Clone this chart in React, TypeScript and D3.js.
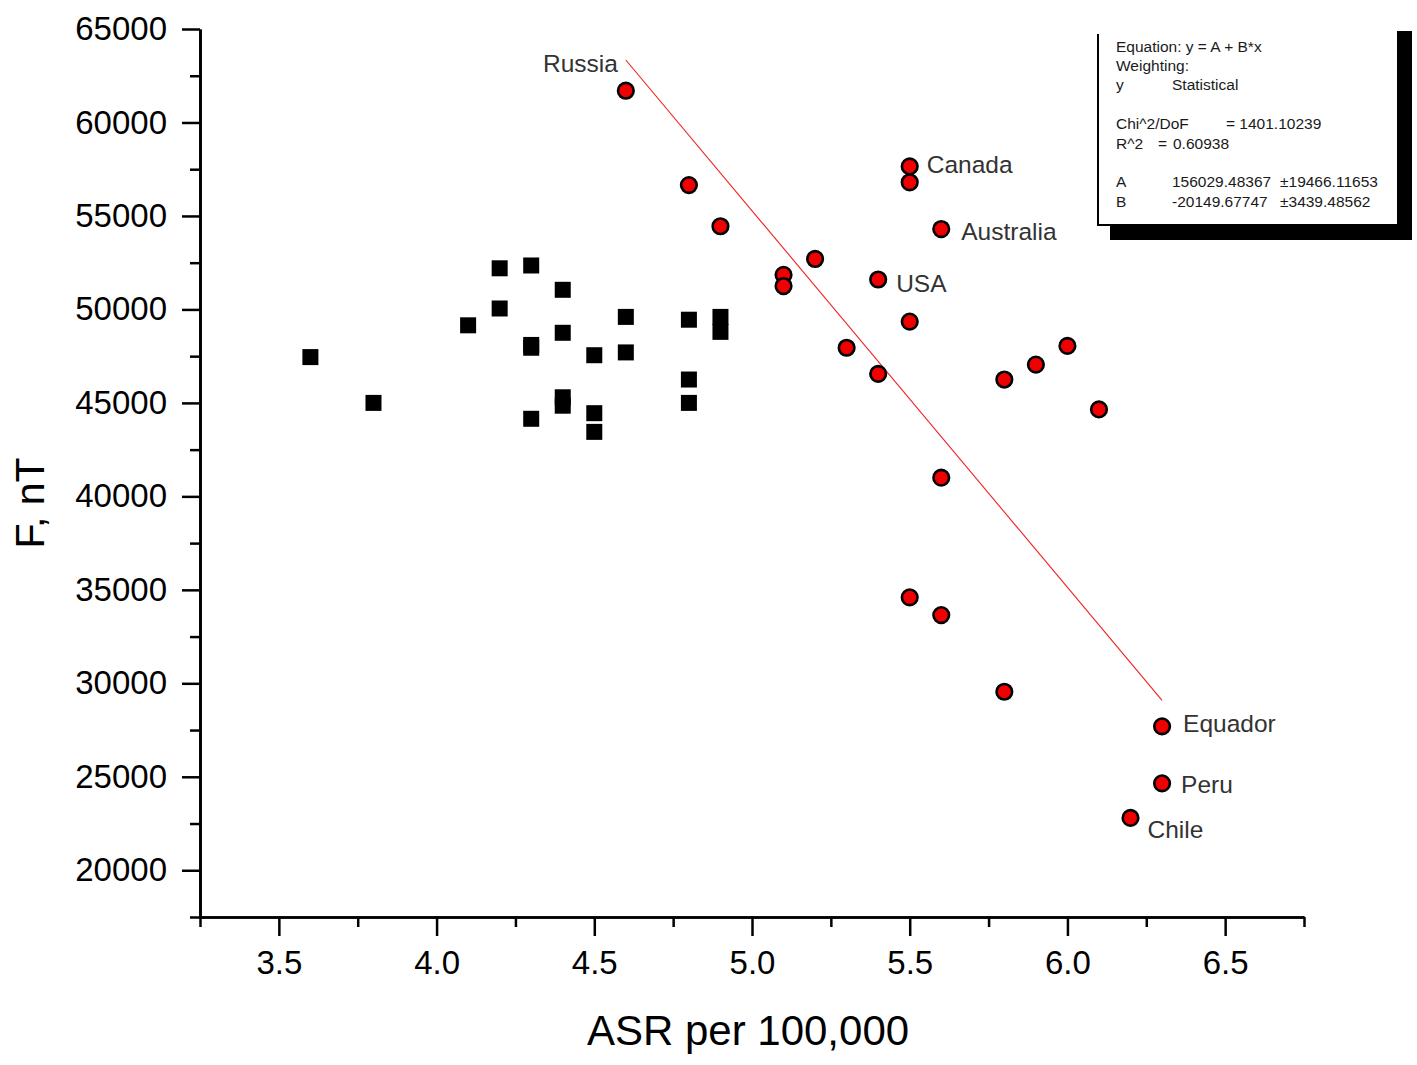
import { useEffect, useRef } from "react";
import * as d3 from "d3";

// black squares
const squareASR = [3.6, 3.8, 4.1, 4.2, 4.2, 4.3, 4.3, 4.3, 4.3, 4.4, 4.4, 4.4, 4.4, 4.5, 4.5, 4.5, 4.6, 4.6, 4.8, 4.8, 4.8, 4.9, 4.9];
const squareF = [47450, 45000, 49150, 52200, 50050, 52350, 48100, 47950, 44150, 51050, 48750, 45300, 44850, 47550, 44450, 43450, 49600, 47700, 49450, 46250, 45000, 49600, 48800];

// red circles
const circleASR = [4.6, 4.8, 4.9, 5.1, 5.1, 5.2, 5.3, 5.4, 5.4, 5.5, 5.5, 5.5, 5.5, 5.6, 5.6, 5.6, 5.8, 5.8, 5.9, 6.0, 6.1, 6.2, 6.3, 6.3];
const circleF = [61700, 56650, 54450, 51850, 51250, 52700, 47950, 51600, 46550, 57650, 56800, 49350, 34600, 54300, 41000, 33650, 46250, 29550, 47050, 48050, 44650, 22800, 27700, 24650];

// country labels (anchored at their point)
const countryNames = ["Russia", "Canada", "Australia", "USA", "Equador", "Peru", "Chile"];
const countryASR = [4.6, 5.5, 5.6, 5.4, 6.3, 6.3, 6.2];
const countryF = [61700, 57650, 54300, 51600, 27700, 24650, 22800];

const xMajorTicks = [3.5, 4.0, 4.5, 5.0, 5.5, 6.0, 6.5];
const xMinorTicks = [3.25, 3.75, 4.25, 4.75, 5.25, 5.75, 6.25, 6.75];
const yMajorTicks = [20000, 25000, 30000, 35000, 40000, 45000, 50000, 55000, 60000, 65000];
const yMinorTicks = [17500, 22500, 27500, 32500, 37500, 42500, 47500, 52500, 57500, 62500];

// linear fit
const fitA = 156029.48367;
const fitB = -20149.67747;
const fitRange = [4.6, 6.3];

const reportRows = [
  ["Equation: y = A + B*x"],
  ["Weighting:"],
  ["y", "Statistical"],
  [],
  ["Chi^2/DoF", "= 1401.10239"],
  ["R^2", "=", "0.60938"],
  [],
  ["A", "156029.48367", "±19466.11653"],
  ["B", "-20149.67747", "±3439.48562"],
];

const FONT = "'Liberation Sans', Arial, Helvetica, sans-serif";

export default function App() {
  const svgRef = useRef<SVGSVGElement>(null);

  useEffect(() => {
    if (!svgRef.current) return;
    const svg = d3.select(svgRef.current);
    svg.selectAll("*").remove();

    const x = d3.scaleLinear().domain([3.25, 6.75]).range([200, 1304]);
    const y = d3.scaleLinear().domain([17500, 65000]).range([917, 29]);

    // axes
    const styleAxis = (g: d3.Selection<SVGGElement, unknown, null, undefined>) => {
      g.select(".domain").attr("stroke", "#000").attr("stroke-width", 2.7);
      g.selectAll(".tick line").attr("stroke", "#000").attr("stroke-width", 2.5);
      g.selectAll(".tick text")
        .attr("fill", "#000")
        .style("font-family", FONT)
        .style("font-size", "33px");
    };

    svg.append("g")
      .attr("transform", `translate(0,${y(17500)})`)
      .call(d3.axisBottom(x).tickValues(xMinorTicks).tickSize(10).tickSizeOuter(0).tickFormat(() => ""))
      .call(styleAxis);
    svg.append("g")
      .attr("transform", `translate(0,${y(17500)})`)
      .call(d3.axisBottom(x).tickValues(xMajorTicks).tickSize(19).tickSizeOuter(0).tickPadding(15).tickFormat(d3.format(".1f")))
      .call(styleAxis);

    svg.append("g")
      .attr("transform", `translate(${x(3.25)},0)`)
      .call(d3.axisLeft(y).tickValues(yMinorTicks).tickSize(10).tickSizeOuter(0).tickFormat(() => ""))
      .call(styleAxis);
    svg.append("g")
      .attr("transform", `translate(${x(3.25)},0)`)
      .call(d3.axisLeft(y).tickValues(yMajorTicks).tickSize(18).tickSizeOuter(0).tickPadding(15).tickFormat(d3.format("d")))
      .call(styleAxis);

    // axis titles
    svg.append("text")
      .attr("x", 748).attr("y", 1045)
      .attr("text-anchor", "middle")
      .style("font-family", FONT).style("font-size", "42px")
      .attr("fill", "#000")
      .text("ASR per 100,000");
    svg.append("text")
      .attr("transform", "translate(44,503) rotate(-90)")
      .attr("text-anchor", "middle")
      .style("font-family", FONT).style("font-size", "41px")
      .attr("fill", "#000")
      .text("F, nT");

    // fit line
    const fitLine = d3.line<number>().x(d => x(d)).y(d => y(fitA + fitB * d));
    svg.append("path")
      .attr("d", fitLine(fitRange))
      .attr("fill", "none")
      .attr("stroke", "#f02020")
      .attr("stroke-width", 1.1);

    // squares
    const side = 16;
    svg.append("g").selectAll("rect")
      .data(d3.range(squareASR.length))
      .join("rect")
      .attr("x", i => x(squareASR[i]) - side / 2)
      .attr("y", i => y(squareF[i]) - side / 2)
      .attr("width", side)
      .attr("height", side)
      .attr("fill", "#000");

    // circles
    svg.append("g").selectAll("circle")
      .data(d3.range(circleASR.length))
      .join("circle")
      .attr("cx", i => x(circleASR[i]))
      .attr("cy", i => y(circleF[i]))
      .attr("r", 7.8)
      .attr("fill", "#f00000")
      .attr("stroke", "#000")
      .attr("stroke-width", 2.6);

    // country labels
    const offsets: Record<string, [number, number, string]> = {
      Russia: [-8, -19, "end"],
      Canada: [17, 7, "start"],
      Australia: [20, 11, "start"],
      USA: [18, 12, "start"],
      Equador: [21, 6, "start"],
      Peru: [19, 10, "start"],
      Chile: [17, 20, "start"],
    };
    svg.append("g").selectAll("text")
      .data(d3.range(countryNames.length))
      .join("text")
      .attr("x", i => x(countryASR[i]) + offsets[countryNames[i]][0])
      .attr("y", i => y(countryF[i]) + offsets[countryNames[i]][1])
      .attr("text-anchor", i => offsets[countryNames[i]][2])
      .style("font-family", FONT).style("font-size", "24.5px")
      .attr("fill", "#333")
      .text(i => countryNames[i]);

    // fit report box with shadow
    const box = svg.append("g");
    box.append("rect").attr("x", 1110).attr("y", 31).attr("width", 302).attr("height", 209).attr("fill", "#000");
    box.append("rect").attr("x", 1098).attr("y", 28).attr("width", 299).attr("height", 197).attr("fill", "#fff");
    box.append("path").attr("d", "M1098,34V225H1397").attr("fill", "none").attr("stroke", "#000").attr("stroke-width", 2);

    const colX: number[][] = [[1116], [1116], [1116, 1172], [], [1116, 1226], [1116, 1158, 1173], [], [1116, 1172, 1280], [1116, 1172, 1280]];
    reportRows.forEach((row, r) => {
      row.forEach((txt, c) => {
        box.append("text")
          .attr("x", colX[r][c])
          .attr("y", 51.5 + r * 19.4)
          .style("font-family", FONT).style("font-size", "15.5px")
          .attr("fill", "#1a1a1a")
          .text(txt);
      });
    });
  }, []);

  return (
    <div>
      <style>{"body{margin:0;background:#fff}"}</style>
      <svg ref={svgRef} width={1417} height={1065} viewBox="0 0 1417 1065" style={{ display: "block" }} />
    </div>
  );
}
